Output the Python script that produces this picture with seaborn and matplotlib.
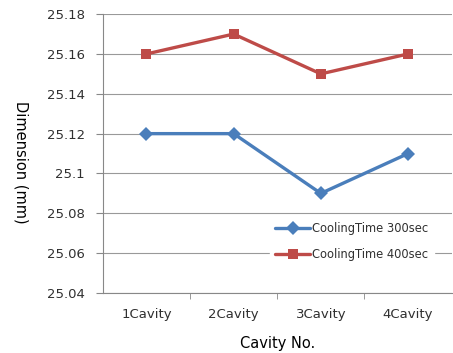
import numpy as np
import pandas as pd
import seaborn as sns
import matplotlib.pyplot as plt
from matplotlib.ticker import FuncFormatter, FixedLocator

cavities = ['1Cavity', '2Cavity', '3Cavity', '4Cavity']
time_300 = [25.12, 25.12, 25.09, 25.11]
time_400 = [25.16, 25.17, 25.15, 25.16]

df = pd.DataFrame({
    'Cavity': list(range(len(cavities))) * 2,
    'Dimension': time_300 + time_400,
    'Series': ['CoolingTime 300sec'] * 4 + ['CoolingTime 400sec'] * 4,
})

sns.set_style('white')
plt.rcParams['font.family'] = ['DejaVu Sans']
txt = '#303030'

fig = plt.figure(figsize=(4.53, 3.53), dpi=100)
ax = fig.add_axes([0.227, 0.17, 0.77, 0.79])

sns.lineplot(data=df, x='Cavity', y='Dimension', hue='Series', style='Series',
             palette=['#4a7ebb', '#be4b48'], markers=['D', 's'], dashes=False,
             markersize=7, linewidth=2.4, markeredgewidth=0, ax=ax)

ax.set_xlim(-0.5, 3.5)
ax.set_ylim(25.04, 25.18)
ax.set_yticks(np.arange(25.04, 25.181, 0.02))
ax.yaxis.set_major_formatter(FuncFormatter(lambda v, p: '%g' % round(v, 2)))
ax.set_xticks(range(4))
ax.set_xticklabels(cavities)
ax.xaxis.set_minor_locator(FixedLocator([0.5, 1.5, 2.5]))
ax.tick_params(axis='x', which='major', length=0, labelsize=9.5, pad=11, labelcolor=txt)
ax.tick_params(axis='x', which='minor', bottom=True, length=4, color='#888888')
ax.tick_params(axis='y', left=True, length=5, color='#888888', labelsize=9.5,
               pad=8, labelcolor=txt)
ax.grid(axis='y', color='#999999', linewidth=0.8)
ax.set_axisbelow(True)
for s in ['top', 'right']:
    ax.spines[s].set_visible(False)
for s in ['left', 'bottom']:
    ax.spines[s].set_color('#888888')

ax.set_xlabel('Cavity No.', fontsize=10.5, color='black', va='center')
ax.xaxis.set_label_coords(0.5, -0.18)
ax.set_ylabel('Dimension (mm)', fontsize=10.5, rotation=270, color='black',
              va='center')
ax.yaxis.set_label_coords(-0.235, 0.47)

leg = ax.legend(loc='lower right', bbox_to_anchor=(0.965, 0.075), frameon=True,
                fontsize=8.3, handlelength=3.0, borderpad=0.5, labelspacing=1.1,
                handletextpad=0.15)
leg.get_frame().set_edgecolor('white')
leg.get_frame().set_alpha(1)
for t in leg.get_texts():
    t.set_color(txt)

fig.savefig('out.png', dpi=100)
